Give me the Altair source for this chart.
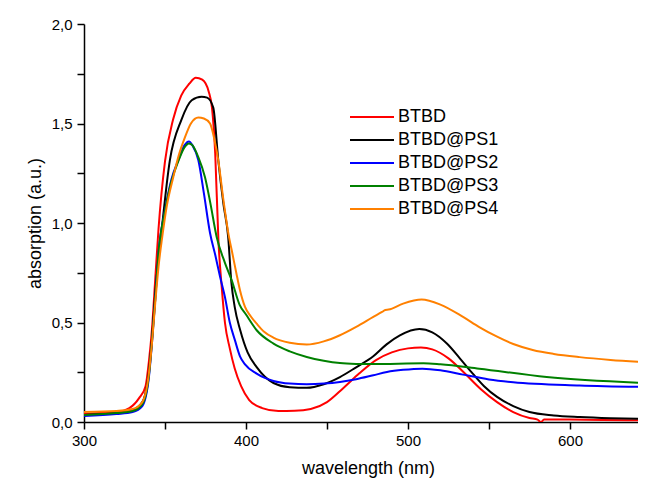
import altair as alt
import pandas as pd

series_names = ["BTBD", "BTBD@PS1", "BTBD@PS2", "BTBD@PS3", "BTBD@PS4"]
series_colors = ["#ff0000", "#000000", "#0000ff", "#008000", "#ff8000"]

btbd_wl = [300, 310, 320, 328, 334, 338, 340, 342, 344, 346, 350, 355, 360, 365, 369, 373, 377, 379, 381, 383,
           385, 387, 390, 393, 397, 402, 410, 420, 430, 440, 450, 460, 470, 480, 490, 500, 508, 515, 525, 535,
           545, 555, 565, 575, 580, 582, 584, 590, 600, 620, 647]
btbd_abs = [0.04, 0.045, 0.05, 0.07, 0.12, 0.18, 0.30, 0.47, 0.72, 0.97, 1.31, 1.52, 1.64, 1.70, 1.73, 1.72, 1.66, 1.58, 1.35, 0.91,
            0.68, 0.50, 0.37, 0.27, 0.18, 0.11, 0.07, 0.055, 0.056, 0.065, 0.10, 0.17, 0.245, 0.31, 0.35, 0.37, 0.374, 0.365, 0.32, 0.245,
            0.165, 0.10, 0.05, 0.02, 0.012, 0.0, 0.012, 0.013, 0.012, 0.01, 0.008]

ps1_wl = [300, 320, 330, 336, 340, 342, 344, 347.5, 353, 360, 366.5, 372.6, 376, 379.8, 382.9, 386, 389, 391, 393, 396.5,
          401, 406.6, 417, 427, 437.5, 448, 458, 468, 478.6, 486.8, 495, 507, 515, 524, 532, 540, 547, 555, 565, 575,
          590, 606, 625, 647]
ps1_abs = [0.035, 0.045, 0.06, 0.10, 0.25, 0.42, 0.65, 0.93, 1.315, 1.516, 1.617, 1.635, 1.63, 1.58, 1.315, 1.10, 0.93, 0.70, 0.58, 0.46,
           0.35, 0.276, 0.196, 0.175, 0.172, 0.19, 0.226, 0.275, 0.33, 0.39, 0.435, 0.467, 0.45, 0.394, 0.32, 0.243, 0.18, 0.126, 0.08, 0.05,
           0.033, 0.025, 0.019, 0.015]

ps2_wl = [300, 320, 330, 336, 340, 342, 344, 346, 350, 354, 358.2, 362, 364.8, 367, 370.6, 374, 377.8, 381, 384, 387,
          390, 393.2, 396.3, 399.4, 406.6, 417, 427, 437.5, 448, 458, 468, 478.6, 487, 497, 509, 520, 534, 550, 565, 606, 647]
ps2_abs = [0.03, 0.04, 0.05, 0.08, 0.22, 0.40, 0.62, 0.85, 1.064, 1.22, 1.315, 1.39, 1.41, 1.39, 1.315, 1.15, 0.95, 0.84, 0.73, 0.628,
           0.50, 0.41, 0.33, 0.29, 0.243, 0.206, 0.193, 0.19, 0.193, 0.201, 0.215, 0.235, 0.251, 0.262, 0.268, 0.26, 0.238, 0.214, 0.2, 0.184, 0.176]

ps3_wl = [300, 320, 330, 336, 340, 342, 344, 346, 350, 354, 358.2, 362, 364.8, 367, 370.6, 374.7, 378, 381.9, 387, 391.2,
          396, 400, 406.6, 417, 427, 437.5, 448, 458, 468, 478.6, 489, 499, 509.5, 520, 544, 585.6, 647]
ps3_abs = [0.035, 0.045, 0.055, 0.09, 0.23, 0.41, 0.62, 0.85, 1.06, 1.21, 1.31, 1.38, 1.40, 1.39, 1.33, 1.23, 1.10, 0.93, 0.80, 0.712,
           0.59, 0.54, 0.461, 0.394, 0.355, 0.327, 0.308, 0.296, 0.292, 0.291, 0.292, 0.294, 0.295, 0.29, 0.268, 0.226, 0.196]

ps4_wl = [300, 320, 330, 336, 340, 342, 344, 346, 348.3, 351, 355.1, 358.5, 362.3, 366, 370.6, 374, 377.8, 380.5, 382.9, 386,
          389.5, 391.2, 394, 396.3, 399.4, 403, 406.6, 411, 416.9, 427, 437.5, 448, 458, 468, 478.6, 484, 486, 488, 497, 508.4,
          520, 534, 544, 554.7, 565, 577, 590, 606, 625, 647]
ps4_abs = [0.05, 0.055, 0.065, 0.10, 0.24, 0.40, 0.60, 0.78, 0.93, 1.08, 1.23, 1.34, 1.43, 1.50, 1.53, 1.525, 1.50, 1.42, 1.315, 1.12,
           0.93, 0.863, 0.75, 0.662, 0.578, 0.53, 0.494, 0.455, 0.424, 0.398, 0.389, 0.405, 0.436, 0.478, 0.528, 0.553, 0.563, 0.565, 0.595, 0.615,
           0.59, 0.528, 0.477, 0.43, 0.392, 0.362, 0.342, 0.326, 0.312, 0.30]

x_ticks = [300, 350, 400, 450, 500, 550, 600]
x_labels = [300, 400, 500, 600]
y_ticks = [0.0, 0.25, 0.5, 0.75, 1.0, 1.25, 1.5, 1.75, 2.0]
y_labels = [0.0, 0.5, 1.0, 1.5, 2.0]

all_wl = [btbd_wl, ps1_wl, ps2_wl, ps3_wl, ps4_wl]
all_abs = [btbd_abs, ps1_abs, ps2_abs, ps3_abs, ps4_abs]
rows = []
for name, wl, ab in zip(series_names, all_wl, all_abs):
    for w, a in zip(wl, ab):
        rows.append({"series": name, "wavelength": w, "absorption": a})
df = pd.DataFrame(rows)

FONT = "Liberation Sans"

xlab = "indexof([" + ",".join(str(v) for v in x_labels) + "], datum.value) >= 0 ? format(datum.value, 'd') : ''"
ylab = "indexof([" + ",".join(str(v) for v in y_labels) + "], datum.value) >= 0 ? replace(format(datum.value, '.1f'), '.', ',') : ''"

chart = alt.Chart(df).mark_line(strokeWidth=2, interpolate="monotone", clip=True).encode(
    x=alt.X("wavelength:Q",
            scale=alt.Scale(domain=[300, 642], nice=False, zero=False),
            axis=alt.Axis(title="wavelength (nm)", values=x_ticks, labelExpr=xlab, grid=False,
                          tickSize=7, tickWidth=1.5, domainWidth=1.5, domainColor="black", tickColor="black",
                          labelFontSize=15, labelColor="black", labelFont=FONT, labelPadding=4,
                          titleFontSize=18, titleFontWeight="normal", titleFont=FONT, titleColor="black",
                          titleX=284, titleY=46, titleBaseline="middle", labelFlush=False)),
    y=alt.Y("absorption:Q",
            scale=alt.Scale(domain=[0, 2.0], nice=False),
            axis=alt.Axis(title="absorption (a.u.)", values=y_ticks, labelExpr=ylab, grid=False,
                          tickSize=7, tickWidth=1.5, domainWidth=1.5, domainColor="black", tickColor="black",
                          labelFontSize=15, labelColor="black", labelFont=FONT, labelPadding=5,
                          titleFontSize=18, titleFontWeight="normal", titleFont=FONT, titleColor="black",
                          titleX=-49, titleY=199, titleBaseline="middle", titleAngle=270, labelFlush=False)),
    color=alt.Color("series:N",
                    scale=alt.Scale(domain=series_names, range=series_colors),
                    legend=alt.Legend(title=None, orient="none", legendX=276, legendY=81,
                                      symbolType="M-2,0H2", symbolSize=484, symbolStrokeWidth=2,
                                      labelFontSize=18, labelFont=FONT, labelColor="black",
                                      labelOffset=14, rowPadding=2, padding=0)),
).properties(
    width=554, height=398,
    autosize=alt.AutoSizeParams(type="none"),
    padding={"left": 76, "top": 16, "right": 0, "bottom": 56},
).configure_view(stroke=None)

chart.save("out.html", embed_options={"renderer": "svg", "actions": False})
